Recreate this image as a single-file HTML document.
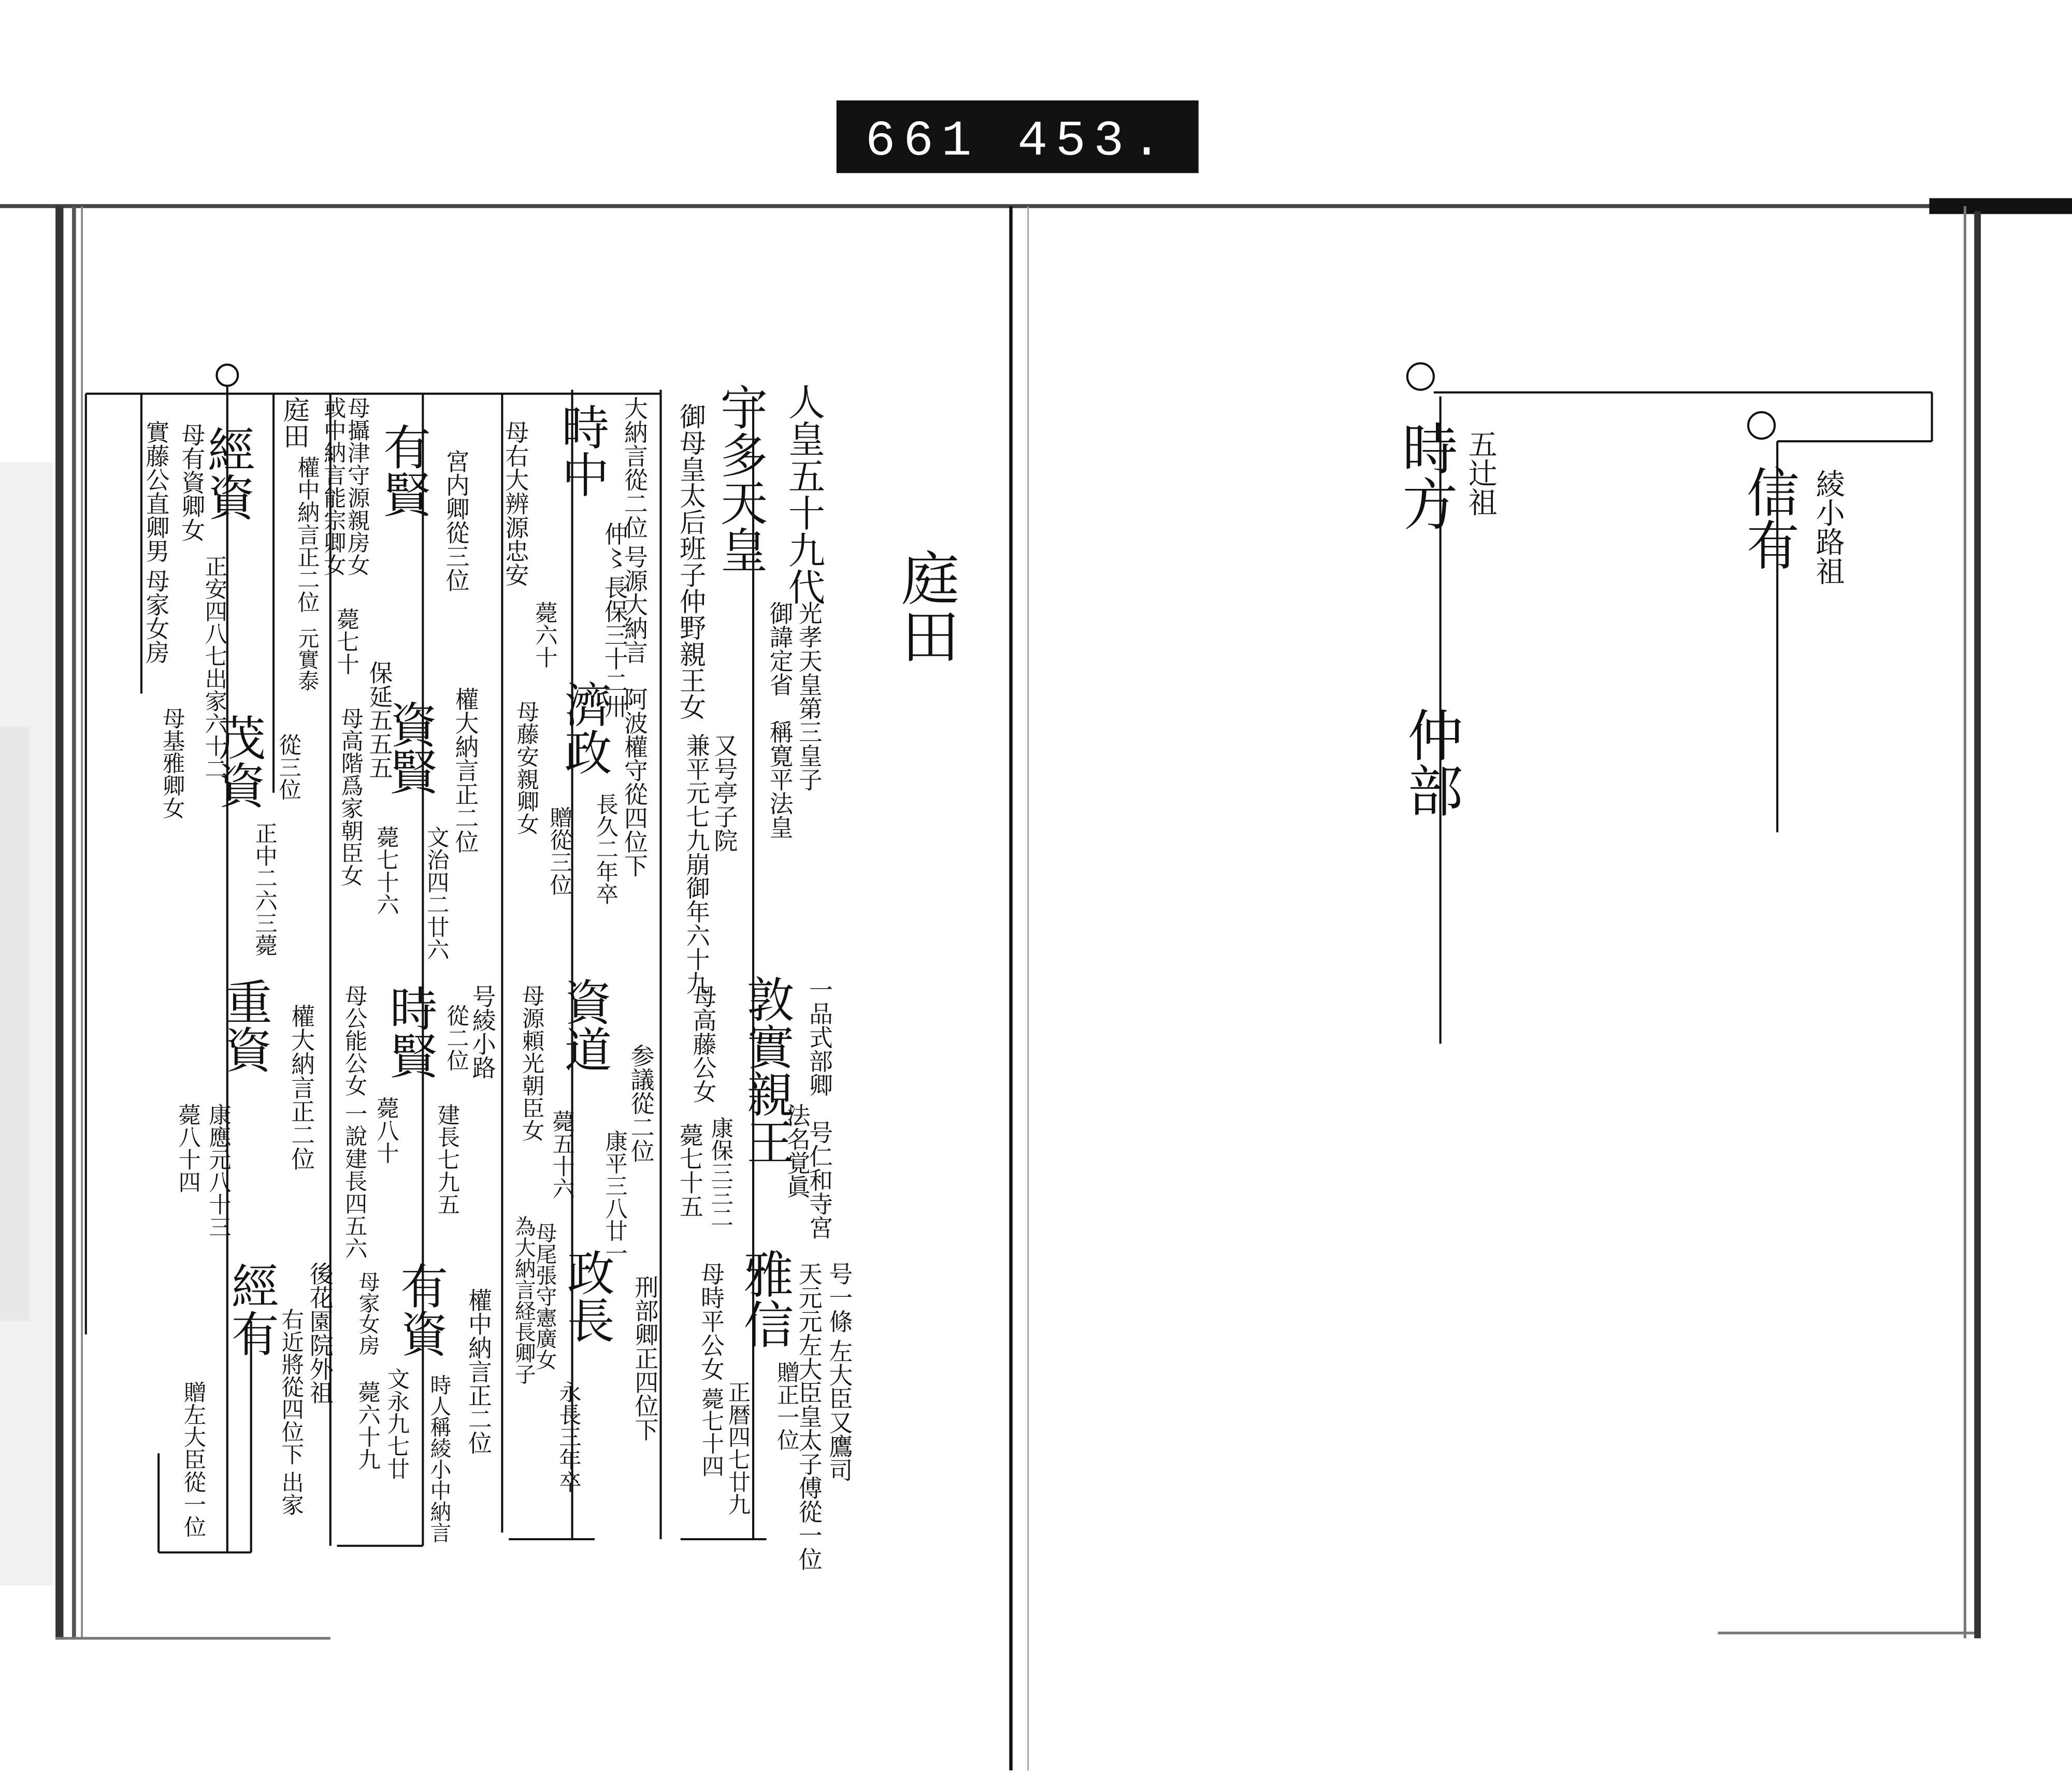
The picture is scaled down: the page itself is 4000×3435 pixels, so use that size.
<!DOCTYPE html>
<html><head><meta charset="utf-8"><style>
html,body{margin:0;padding:0;background:#fff;}
svg{display:block;}
text{font-family:"Liberation Serif","Noto Serif CJK SC","Noto Sans CJK JP",serif;fill:#111;}
.v{writing-mode:vertical-rl;}
</style></head><body>
<svg width="4000" height="3435" viewBox="0 0 1568 1346.5" preserveAspectRatio="none" xmlns="http://www.w3.org/2000/svg">
<rect width="1568" height="1346.5" fill="#fff"/>
<!-- scan noise left -->
<rect x="0" y="350" width="40" height="850" fill="#f1f1f1"/>
<rect x="0" y="550" width="22" height="450" fill="#e8e8e8"/>
<!-- label -->
<rect x="633" y="76" width="274" height="55" fill="#111"/>
<text x="770" y="117" text-anchor="middle" font-size="38" style="fill:#fff;font-family:'Liberation Mono',monospace" letter-spacing="6">661  453.</text>
<!-- top band -->
<line x1="0" y1="156" x2="1568" y2="156" stroke="#444" stroke-width="3"/>
<rect x="1460" y="150" width="108" height="12" fill="#111"/>
<!-- left page edges -->
<rect x="42" y="156" width="6" height="1085" fill="#333"/>
<line x1="56" y1="156" x2="56" y2="1240" stroke="#555" stroke-width="3"/>
<line x1="62" y1="156" x2="62" y2="1240" stroke="#888" stroke-width="1.5"/>
<line x1="42" y1="1240" x2="250" y2="1240" stroke="#777" stroke-width="2"/>
<!-- spine -->
<line x1="765" y1="156" x2="765" y2="1340" stroke="#111" stroke-width="2.5"/>
<line x1="778" y1="156" x2="778" y2="1340" stroke="#999" stroke-width="1"/>
<!-- right page edges -->
<line x1="1487" y1="156" x2="1487" y2="1240" stroke="#777" stroke-width="2"/>
<rect x="1494" y="160" width="5" height="1080" fill="#333"/>
<line x1="1300" y1="1236" x2="1494" y2="1236" stroke="#777" stroke-width="2"/>

<g stroke="#111" stroke-width="1.6" fill="none">
<circle cx="172" cy="284" r="8"/>
<line x1="65" y1="298" x2="500" y2="298"/>
<line x1="65" y1="298" x2="65" y2="1010"/>
<line x1="107" y1="298" x2="107" y2="525"/>
<line x1="172" y1="292" x2="172" y2="1175"/>
<line x1="120" y1="1175" x2="190" y2="1175"/>
<line x1="120" y1="1100" x2="120" y2="1175"/>
<line x1="190" y1="1000" x2="190" y2="1175"/>
<line x1="207" y1="298" x2="207" y2="600"/>
<line x1="250" y1="298" x2="250" y2="1170"/>
<line x1="255" y1="1170" x2="320" y2="1170"/>
<line x1="320" y1="298" x2="320" y2="1170"/>
<line x1="380" y1="298" x2="380" y2="1160"/>
<line x1="385" y1="1165" x2="450" y2="1165"/>
<line x1="433" y1="295" x2="433" y2="1165"/>
<line x1="500" y1="295" x2="500" y2="1165"/>
<line x1="515" y1="1165" x2="580" y2="1165"/>
<line x1="570" y1="300" x2="570" y2="1165"/>
<circle cx="1075" cy="285" r="10"/>
<line x1="1085" y1="297" x2="1462" y2="297"/>
<line x1="1462" y1="297" x2="1462" y2="334"/>
<circle cx="1333" cy="322" r="10"/>
<line x1="1345" y1="334" x2="1462" y2="334"/>
<line x1="1345" y1="334" x2="1345" y2="630"/>
<line x1="1090" y1="300" x2="1090" y2="790"/>
</g>

<text class="v" x="700" y="415" font-size="44">庭田</text>

<text class="v" x="608" y="290" font-size="28">人皇五十九代</text>
<text class="v" x="612" y="455" font-size="18">光孝天皇第三皇子</text>
<text class="v" x="590" y="455" font-size="18">御諱定省　稱寛平法皇</text>
<text class="v" x="560" y="290" font-size="36">宇多天皇</text>
<text class="v" x="522" y="305" font-size="20">御母皇太后班子仲野親王女</text>
<text class="v" x="548" y="555" font-size="18">又号亭子院</text>
<text class="v" x="527" y="555" font-size="18">兼平元七九崩御年六十九</text>
<text class="v" x="580" y="738" font-size="36">敦實親王</text>
<text class="v" x="620" y="740" font-size="18">一品式部卿　号仁和寺宮</text>
<text class="v" x="603" y="835" font-size="18">法名覚眞</text>
<text class="v" x="545" y="845" font-size="17">康保三三二</text>
<text class="v" x="532" y="745" font-size="18">母高藤公女</text>
<text class="v" x="522" y="850" font-size="18">薨七十五</text>
<text class="v" x="578" y="945" font-size="38">雅信</text>
<text class="v" x="635" y="955" font-size="18">号一條 左大臣又鷹司</text>
<text class="v" x="612" y="955" font-size="18">天元元左大臣皇太子傅從一位</text>
<text class="v" x="595" y="1030" font-size="17">贈正一位</text>
<text class="v" x="538" y="955" font-size="18">母時平公女</text>
<text class="v" x="538" y="1050" font-size="17">薨七十四</text>
<text class="v" x="558" y="1045" font-size="17">正暦四七廿九</text>

<text class="v" x="440" y="305" font-size="36">時中</text>
<text class="v" x="480" y="300" font-size="18">大納言從二位 号源大納言</text>
<text class="v" x="465" y="395" font-size="18">仲〻 長保三十二卅</text>
<text class="v" x="390" y="318" font-size="18">母右大辨源忠安</text>
<text class="v" x="412" y="455" font-size="17">薨六十</text>
<text class="v" x="442" y="515" font-size="36">濟政</text>
<text class="v" x="480" y="520" font-size="18">阿波權守從四位下</text>
<text class="v" x="458" y="600" font-size="17">長久二年卒</text>
<text class="v" x="398" y="530" font-size="17">母藤安親卿女</text>
<text class="v" x="423" y="610" font-size="17">贈從三位</text>
<text class="v" x="442" y="740" font-size="36">資道</text>
<text class="v" x="485" y="790" font-size="18">参議從二位</text>
<text class="v" x="465" y="855" font-size="17">康平三八廿一</text>
<text class="v" x="402" y="745" font-size="17">母源頼光朝臣女</text>
<text class="v" x="425" y="840" font-size="17">薨五十六</text>
<text class="v" x="444" y="945" font-size="36">政長</text>
<text class="v" x="488" y="965" font-size="18">刑部卿正四位下</text>
<text class="v" x="430" y="1045" font-size="17">永長三年卒</text>
<text class="v" x="412" y="925" font-size="16">母尾張守憲廣女</text>
<text class="v" x="396" y="920" font-size="16">為大納言経長卿子</text>

<text class="v" x="345" y="340" font-size="18">宮内卿從三位</text>
<text class="v" x="305" y="320" font-size="36">有賢</text>
<text class="v" x="270" y="300" font-size="17">母攝津守源親房女</text>
<text class="v" x="252" y="300" font-size="17">或中納言能宗卿女</text>
<text class="v" x="287" y="500" font-size="18">保延五五五</text>
<text class="v" x="262" y="460" font-size="17">薨七十</text>
<text class="v" x="310" y="530" font-size="36">資賢</text>
<text class="v" x="352" y="520" font-size="18">權大納言正二位</text>
<text class="v" x="330" y="625" font-size="17">文治四二廿六</text>
<text class="v" x="292" y="625" font-size="17">薨七十六</text>
<text class="v" x="265" y="535" font-size="17">母高階爲家朝臣女</text>
<text class="v" x="310" y="745" font-size="36">時賢</text>
<text class="v" x="365" y="745" font-size="18">号綾小路</text>
<text class="v" x="345" y="760" font-size="17">從二位</text>
<text class="v" x="338" y="835" font-size="17">建長七九五</text>
<text class="v" x="292" y="830" font-size="17">薨八十</text>
<text class="v" x="268" y="745" font-size="17">母公能公女 一說建長四五六</text>
<text class="v" x="318" y="955" font-size="36">有資</text>
<text class="v" x="362" y="975" font-size="18">權中納言正二位</text>
<text class="v" x="332" y="1040" font-size="16">時人稱綾小中納言</text>
<text class="v" x="300" y="1035" font-size="17">文永九七廿</text>
<text class="v" x="278" y="1045" font-size="17">薨六十九</text>
<text class="v" x="278" y="962" font-size="16">母家女房</text>

<text class="v" x="222" y="300" font-size="20">庭田</text>
<text class="v" x="232" y="345" font-size="17">權中納言正二位</text>
<text class="v" x="232" y="475" font-size="16">元實泰</text>
<text class="v" x="172" y="322" font-size="36">經資</text>
<text class="v" x="145" y="320" font-size="18">母有資卿女</text>
<text class="v" x="162" y="420" font-size="17">正安四八七出家六十二</text>
<text class="v" x="118" y="318" font-size="18">實藤公直卿男 母家女房</text>
<text class="v" x="180" y="540" font-size="36">茂資</text>
<text class="v" x="218" y="555" font-size="17">從三位</text>
<text class="v" x="200" y="622" font-size="17">正中二六三薨</text>
<text class="v" x="130" y="535" font-size="17">母基雅卿女</text>
<text class="v" x="185" y="740" font-size="36">重資</text>
<text class="v" x="228" y="760" font-size="18">權大納言正二位</text>
<text class="v" x="165" y="835" font-size="17">康應元八十三</text>
<text class="v" x="142" y="835" font-size="17">薨八十四</text>
<text class="v" x="190" y="955" font-size="36">經有</text>
<text class="v" x="242" y="955" font-size="18">後花園院外祖</text>
<text class="v" x="220" y="990" font-size="17">右近將從四位下 出家</text>
<text class="v" x="146" y="1045" font-size="17">贈左大臣從一位</text>

<text class="v" x="1078" y="318" font-size="42">時方</text>
<text class="v" x="1120" y="325" font-size="22">五辻祖</text>
<text class="v" x="1082" y="535" font-size="42">仲部</text>
<text class="v" x="1338" y="352" font-size="40">信有</text>
<text class="v" x="1383" y="355" font-size="22">綾小路祖</text>
</svg>
</body></html>
